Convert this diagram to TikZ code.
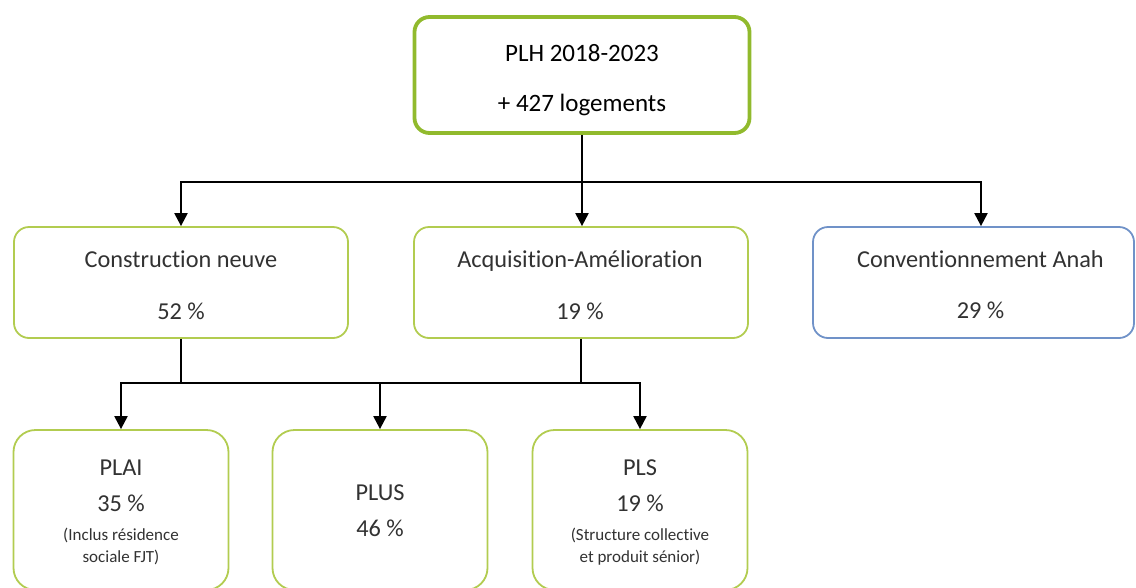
\documentclass[tikz,border=0pt]{standalone}
\usepackage{fontspec}
\setmainfont{Carlito}[Ligatures=NoCommon]
\usetikzlibrary{arrows.meta,calc}
\definecolor{grn}{RGB}{145,186,45}
\definecolor{grnl}{RGB}{178,204,80}
\definecolor{blu}{RGB}{112,146,200}
\definecolor{txt}{RGB}{50,50,50}
\begin{document}
\begin{tikzpicture}[x=1pt,y=-1pt,
 box/.style={draw=grnl,line width=1.8pt,rounded corners=15pt,inner sep=0pt,fill=white},
 midbox/.style={box,minimum width=334pt,minimum height=111pt},
 lowbox/.style={box,rounded corners=22pt,minimum width=215pt,minimum height=160pt},
 toptxt/.style={anchor=base,inner sep=0pt,text=black,font={\fontsize{25}{30}\selectfont}},
 bigtxt/.style={anchor=base,inner sep=0pt,text=txt,font={\fontsize{24.3}{29}\selectfont}},
 smalltxt/.style={anchor=base,inner sep=0pt,text=txt,font={\fontsize{17}{20}\selectfont}},
 con/.style={line width=2.2pt,black},
 arr/.style={con,-{Triangle[width=13pt,length=13pt]}}]
\useasboundingbox (0,0) rectangle (1136,587);
% top
\node[box,draw=grn,line width=3.8pt,minimum width=335pt,minimum height=116pt] (top) at (582,75) {};
\node[toptxt] (top1) at (582,61) {PLH 2018-2023};
\node[toptxt] (top2) at (582,111) {+ 427 logements};
% middle level
\node[midbox] (cn) at (181,282.5) {};
\node[bigtxt] (cn1) at (181,267) {Construction neuve};
\node[bigtxt] (cn2) at (181,319) {52 \%};
\node[midbox] (aa) at (581,282.5) {};
\node[bigtxt] (aa1) at (580,267) {Acquisition-Amélioration};
\node[bigtxt] (aa2) at (580,319) {19 \%};
\node[midbox,draw=blu,minimum width=321pt] (ca) at (973.5,282.5) {};
\node[bigtxt] (ca1) at (980.5,267) {Conventionnement Anah};
\node[bigtxt] (ca2) at (980.5,318) {29 \%};
% bottom level
\node[lowbox] (plai) at (121,510) {};
\node[bigtxt] (plai1) at (121,475) {PLAI};
\node[bigtxt] (plai2) at (121,511) {35 \%};
\node[smalltxt] (plai3) at (121,540) {(Inclus résidence};
\node[smalltxt] (plai4) at (121,562) {sociale FJT)};
\node[lowbox] (plus) at (380,510) {};
\node[bigtxt] (plus1) at (380,500) {PLUS};
\node[bigtxt] (plus2) at (380,536) {46 \%};
\node[lowbox] (pls) at (640,510) {};
\node[bigtxt] (pls1) at (640,475) {PLS};
\node[bigtxt] (pls2) at (640,511) {19 \%};
\node[smalltxt] (pls3) at (640,540) {(Structure collective};
\node[smalltxt] (pls4) at (640,562) {et produit sénior)};
% connectors level 1
\coordinate (h1) at (582,182);
\draw[con] (top.south) -- (h1);
\draw[arr] (h1) -| (cn.north);
\draw[arr] (h1) -- (h1 |- aa.north);
\draw[arr] (h1) -| ([xshift=7.5pt]ca.north);
% connectors level 2
\coordinate (j1) at (181,383);
\coordinate (j2) at (581,383);
\draw[con] (cn.south) -- (j1);
\draw[con] (aa.south) -- (j2);
\draw[con] (j1) -- (j2);
\draw[arr] (j1) -| (plai.north);
\draw[arr] (j2) -| (pls.north);
\draw[arr] (plus.north |- j1) -- (plus.north);
\end{tikzpicture}
\end{document}
